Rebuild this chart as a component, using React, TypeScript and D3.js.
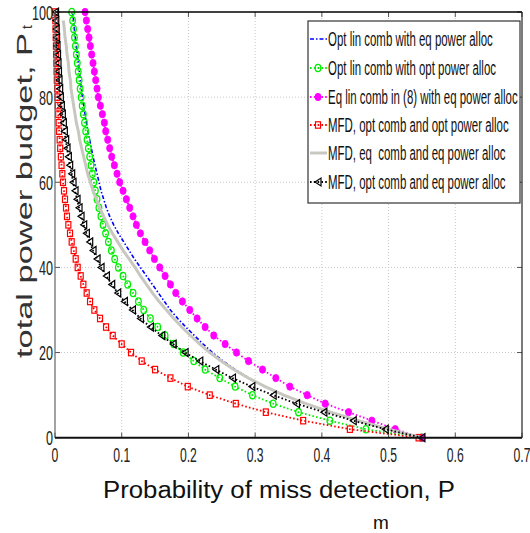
import React from "react";
import * as d3 from "d3";

const PT = [0,2,4,6,8,10,12,14,16,18,20,22,24,26,28,30,32,34,36,38,40,42,44,46,48,50,52,54,56,58,60,62,64,66,68,70,72,74,76,78,80,82,84,86,88,90,92,94,96,98,100];

const BLUE_PM = [0.55,0.50,0.455,0.413,0.376,0.343,0.315,0.291,0.27,0.252,0.236,
  0.222,0.209,0.196,0.184,0.173,0.164,0.155,0.146,0.137,0.128,
  0.119,0.111,0.103,0.095,0.088,0.082,0.077,0.073,0.069,0.066,
  0.063,0.06,0.057,0.0545,0.052,0.0495,0.047,0.045,0.043,0.041,
  0.0395,0.038,0.0365,0.035,0.0335,0.032,0.0305,0.029,0.0278,0.0265];

const GREEN_PM = [0.55,0.466,0.412,0.365,0.327,0.296,0.27,0.247,0.225,0.208,0.192,
  0.178,0.165,0.154,0.143,0.133,0.125,0.117,0.109,0.102,0.095,
  0.0895,0.0845,0.08,0.0758,0.072,0.0688,0.0658,0.063,0.0605,0.0582,
  0.056,0.054,0.052,0.05,0.048,0.046,0.0442,0.0425,0.0408,0.0392,
  0.0377,0.0362,0.0348,0.0334,0.032,0.0306,0.0292,0.0278,0.0264,0.025];

const MAGENTA_PM = [0.55,0.51,0.475,0.44,0.405,0.378,0.352,0.331,0.311,0.29,0.272,
  0.255,0.238,0.225,0.213,0.202,0.191,0.181,0.173,0.165,0.157,
  0.149,0.142,0.135,0.128,0.122,0.117,0.112,0.107,0.102,0.097,
  0.093,0.089,0.085,0.082,0.079,0.076,0.074,0.071,0.068,0.065,
  0.063,0.061,0.059,0.057,0.055,0.053,0.051,0.049,0.047,0.045];

const RED_PM = [0.545,0.442,0.372,0.316,0.271,0.232,0.199,0.173,0.150,0.130,0.114,
  0.100,0.0865,0.0765,0.0675,0.059,0.0525,0.0475,0.0425,0.0385,0.034,
  0.031,0.028,0.025,0.0225,0.020,0.018,0.0165,0.015,0.0135,0.012,
  0.011,0.0098,0.0088,0.0078,0.007,0.0062,0.0055,0.0048,0.0042,0.0036,
  0.0031,0.0027,0.0023,0.002,0.0017,0.0014,0.0011,0.0008,0.0005,0.0003];

const GRAY_PM = [0.55,0.50,0.455,0.413,0.376,0.343,0.315,0.29,0.268,0.249,0.232,
  0.217,0.203,0.19,0.178,0.167,0.156,0.146,0.137,0.128,0.12,
  0.111,0.102,0.094,0.086,0.079,0.073,0.067,0.062,0.057,0.053,
  0.049,0.046,0.043,0.040,0.037,0.035,0.032,0.030,0.028,0.026,
  0.024,0.023,0.021,0.020,0.018,0.017,0.015,0.014,0.0125];

const BLACK_PM = [0.55,0.495,0.447,0.403,0.362,0.327,0.295,0.266,0.241,0.217,0.195,
  0.177,0.16,0.143,0.128,0.116,0.104,0.094,0.085,0.077,0.069,
  0.063,0.057,0.052,0.047,0.043,0.039,0.036,0.033,0.030,0.027,
  0.025,0.022,0.020,0.018,0.016,0.014,0.0125,0.011,0.0095,0.008,
  0.007,0.006,0.0052,0.0045,0.0038,0.003,0.0024,0.0018,0.0012,0.0008];

const X_TICKS = [0,0.1,0.2,0.3,0.4,0.5,0.6,0.7];
const X_TICK_LABELS = ["0","0.1","0.2","0.3","0.4","0.5","0.6","0.7"];
const Y_TICKS = [0,20,40,60,80,100];
const Y_TICK_LABELS = ["0","20","40","60","80","100"];

const LEGEND_LABELS = [
  "Opt lin comb with eq power alloc",
  "Opt lin comb with opt power alloc",
  "Eq lin comb in (8) with eq power alloc",
  "MFD, opt comb and opt power alloc",
  "MFD, eq  comb and eq power alloc",
  "MFD, opt comb and eq power alloc",
];

const FONT = "'Liberation Sans', Arial, Helvetica, sans-serif";

type Marker = "none" | "circle" | "dot" | "square" | "tri";
interface Series { pm: number[]; color: string; dash: string; width: number; marker: Marker; }

const SERIES: Series[] = [
  { pm: BLUE_PM, color: "#0000ff", dash: "4,2,1.5,2", width: 1.6, marker: "none" },
  { pm: GREEN_PM, color: "#00ee00", dash: "1.6,2.2", width: 1.8, marker: "circle" },
  { pm: MAGENTA_PM, color: "#ff00ff", dash: "1.6,2.2", width: 1.8, marker: "dot" },
  { pm: RED_PM, color: "#ff0000", dash: "1.6,2.2", width: 1.8, marker: "square" },
  { pm: GRAY_PM, color: "#c8c8c0", dash: "", width: 3, marker: "none" },
  { pm: BLACK_PM, color: "#000000", dash: "1.6,2.2", width: 1.8, marker: "tri" },
];

function MarkerShape({ kind, cx, cy, color }: { kind: Marker; cx: number; cy: number; color: string }) {
  if (kind === "circle") return <ellipse cx={cx} cy={cy} rx={2.8} ry={3.6} fill="none" stroke={color} strokeWidth={1.3} />;
  if (kind === "dot") return <ellipse cx={cx} cy={cy} rx={3.1} ry={3.7} fill={color} stroke={color} strokeWidth={0.8} />;
  if (kind === "square") return <rect x={cx - 2.5} y={cy - 3.2} width={5} height={6.4} fill="none" stroke={color} strokeWidth={1.2} />;
  if (kind === "tri") return <path d={`M${cx - 3},${cy} L${cx + 3},${cy - 4} L${cx + 3},${cy + 4} Z`} fill="none" stroke={color} strokeWidth={1.2} />;
  return null;
}

export default function App() {
  const W = 530, H = 533;
  const x = d3.scaleLinear().domain([0, 0.7]).range([55, 522]);
  const y = d3.scaleLinear().domain([0, 100]).range([437.7, 12]);
  const mkLine = (pm: number[]) =>
    d3.line<number>().x((d) => x(d)).y((_d, i) => y(PT[i]))(pm) || "";

  const left = x(0), right = x(0.7), top = y(100), bottom = y(0);
  const legendRows = [39, 68, 97, 125, 153, 182];

  return (
    <svg width={W} height={H} style={{ position: "absolute", left: 0, top: 0, background: "#fff" }} fontFamily={FONT}>
      <rect x={0} y={0} width={W} height={H} fill="#fff" />
      {/* grid */}
      {X_TICKS.slice(1, -1).map((t) => (
        <line key={"gx" + t} x1={x(t)} x2={x(t)} y1={top} y2={bottom} stroke="#c8c8c8" strokeWidth={1} strokeDasharray="1,2" />
      ))}
      {Y_TICKS.slice(1, -1).map((t) => (
        <line key={"gy" + t} x1={left} x2={right} y1={y(t)} y2={y(t)} stroke="#c8c8c8" strokeWidth={1} strokeDasharray="1,2" />
      ))}
      {/* ticks */}
      {X_TICKS.map((t) => (
        <g key={"tx" + t}>
          <line x1={x(t)} x2={x(t)} y1={bottom} y2={bottom - 5} stroke="#555" strokeWidth={1} />
          <line x1={x(t)} x2={x(t)} y1={top} y2={top + 5} stroke="#555" strokeWidth={1} />
        </g>
      ))}
      {Y_TICKS.map((t) => (
        <g key={"ty" + t}>
          <line x1={left} x2={left + 5} y1={y(t)} y2={y(t)} stroke="#555" strokeWidth={1} />
          <line x1={right} x2={right - 5} y1={y(t)} y2={y(t)} stroke="#555" strokeWidth={1} />
        </g>
      ))}
      {/* series */}
      {SERIES.map((s, si) => (
        <g key={"s" + si}>
          <path d={mkLine(s.pm)} fill="none" stroke={s.color} strokeWidth={s.width} strokeDasharray={s.dash || undefined} />
          {s.marker !== "none" && s.pm.map((v, i) => (
            <MarkerShape key={i} kind={s.marker} cx={x(v)} cy={y(PT[i])} color={s.color} />
          ))}
        </g>
      ))}
      {/* frame */}
      <line x1={left} x2={right} y1={top} y2={top} stroke="#000" strokeWidth={1.3} />
      <line x1={right} x2={right} y1={top} y2={bottom} stroke="#222" strokeWidth={1.2} />
      <line x1={left} x2={left} y1={top} y2={bottom} stroke="#666" strokeWidth={1.2} />
      <line x1={left} x2={right} y1={bottom} y2={bottom} stroke="#111" strokeWidth={2} />
      {/* tick labels */}
      {X_TICKS.map((t, i) => (
        <text key={"lx" + t} transform={`translate(${x(t)},462) scale(0.58,1)`} textAnchor="middle" fontSize={21} fill="#222">{X_TICK_LABELS[i]}</text>
      ))}
      {Y_TICKS.map((t, i) => (
        <text key={"ly" + t} transform={`translate(53,${y(t) + 7.5}) scale(0.6,1)`} textAnchor="end" fontSize={21} fill="#222">{Y_TICK_LABELS[i]}</text>
      ))}
      {/* axis labels */}
      <text x={103} y={498} fontSize={23} textLength={352} lengthAdjust="spacingAndGlyphs" fill="#111">Probability of miss detection, P</text>
      <text x={373} y={529} fontSize={19} fill="#111">m</text>
      <text transform="translate(32,358) rotate(-90)" fontSize={22} textLength={325} lengthAdjust="spacingAndGlyphs" fill="#333">total power budget, P</text>
      <text transform="translate(32,29) rotate(-90)" fontSize={14} fill="#333">t</text>
      {/* legend */}
      <rect x={308} y={21} width={212} height={182} fill="#fff" stroke="#333" strokeWidth={1.2} />
      {SERIES.map((s, i) => (
        <g key={"lg" + i}>
          <line x1={310} x2={327} y1={legendRows[i]} y2={legendRows[i]} stroke={s.color} strokeWidth={s.width} strokeDasharray={s.dash || undefined} />
          {s.marker !== "none" && <MarkerShape kind={s.marker} cx={318} cy={legendRows[i]} color={s.color} />}
          <text transform={`translate(328,${legendRows[i] + 7}) scale(0.573,1)`} fontSize={20} fill="#111" style={{ whiteSpace: "pre" }}>{LEGEND_LABELS[i]}</text>
        </g>
      ))}
    </svg>
  );
}
